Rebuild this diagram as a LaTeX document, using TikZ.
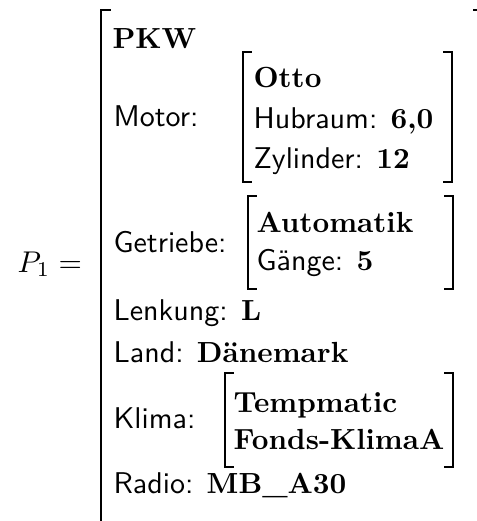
\documentclass[tikz,border=0pt]{standalone}
\usepackage{fontspec}
\tikzset{
  lbl/.style={anchor=base west, inner sep=0pt, font=\fontsize{10}{12}\selectfont\sffamily},
  val/.style={anchor=base west, inner sep=0pt, font=\fontsize{9.7}{12}\selectfont\rmfamily\bfseries},
  brk/.style={line width=0.57pt, line cap=rect},
}
\newcommand{\vb}[1]{{\rmfamily\bfseries\fontsize{9.7}{12}\selectfont #1}}
\begin{document}
\begin{tikzpicture}[x=0.33333pt,y=-0.33333pt]
\useasboundingbox (0,0) rectangle (477,521);
% outer matrix
\node[anchor=base west, inner sep=0pt, font=\fontsize{10}{12}\selectfont] (p1) at (17,272) {$P_1 =$};
\coordinate (ltop) at (101,10);
\coordinate (lbot) at (101,540);
\draw[brk] (110,10) -- (ltop) -- (lbot);
\draw[brk] (474,10) -- (479,10) -- (479,40);
\node[val] (pkw) at (112,48) {PKW};
% Motor
\node[lbl] (motor) at (113,126) {Motor:};
\draw[brk] (251,52) -- (243,52) -- (243,182) -- (251,182);
\draw[brk] (444,52) -- (452,52) -- (452,182) -- (444,182);
\node[val] (otto) at (253,87) {Otto};
\node[lbl] (hub) at (253,128) {Hubraum: \vb{6,0}};
\node[lbl] (zyl) at (253,168) {Zylinder: \vb{12}};
% Getriebe
\node[lbl] (getr) at (113,252) {Getriebe:};
\draw[brk] (256,196) -- (248,196) -- (248,289) -- (256,289);
\draw[brk] (445,196) -- (453,196) -- (453,289) -- (445,289);
\node[val] (auto) at (256,232) {Automatik};
\node[lbl] (gang) at (256,270) {Gänge: \vb{5}};
% Lenkung, Land
\node[lbl] (lenk) at (113,320) {Lenkung: \vb{L}};
\node[lbl] (land) at (113,362) {Land: \vb{Dänemark}};
% Klima
\node[lbl] (klima) at (113,428) {Klima:};
\draw[brk] (233,373) -- (225,373) -- (225,467) -- (233,467);
\draw[brk] (445,373) -- (453,373) -- (453,467) -- (445,467);
\node[val] (temp) at (233,412) {Tempmatic};
\node[val] (fonds) at (233,449) {Fonds-KlimaA};
% Radio
\node[lbl] (radio) at (113,493) {Radio: \vb{MB\_A30}};
\end{tikzpicture}
\end{document}
